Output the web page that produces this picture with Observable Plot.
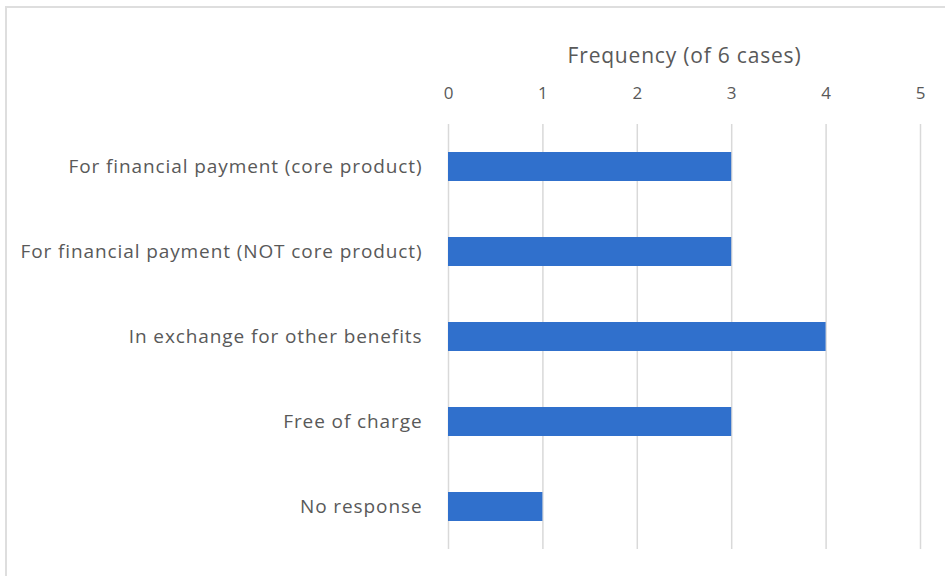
<!DOCTYPE html>
<html>
<head>
<meta charset="utf-8">
<script src="https://cdn.jsdelivr.net/npm/d3@7"></script>
<script src="https://cdn.jsdelivr.net/npm/@observablehq/plot@0.6"></script>
<style>
  html, body { margin: 0; padding: 0; background: #fff; }
  #wrap { position: relative; width: 945px; height: 576px; overflow: hidden; }
  #border { position: absolute; left: 5px; top: 6px; width: 960px; height: 600px; border: 2px solid #dedede; box-sizing: border-box; pointer-events: none; }
  svg { display: block; }
  g[aria-label="y-axis tick label"] text { letter-spacing: 0.9px; }
  g.xtitle text { letter-spacing: 0.8px; }
</style>
</head>
<body>
<div id="wrap"><div id="border"></div></div>
<script>
const categories = [
  "For financial payment (core product)",
  "For financial payment (NOT core product)",
  "In exchange for other benefits",
  "Free of charge",
  "No response"
];
const frequencies = [3, 3, 4, 3, 1];
const xTicks = [0, 1, 2, 3, 4, 5];
const xTitle = "Frequency (of 6 cases)";

const data = categories.map((c, i) => ({category: c, value: frequencies[i]}));
const textColor = "#595959";

const chart = Plot.plot({
  width: 945,
  height: 576,
  marginTop: 124,
  marginBottom: 27,
  marginLeft: 448,
  marginRight: 25,
  style: { fontFamily: "'Open Sans', sans-serif", color: textColor, background: "transparent" },
  x: { domain: [0, 5], ticks: xTicks },
  y: { domain: categories, paddingInner: 0.66, paddingOuter: 0.33 },
  marks: [
    Plot.gridX(xTicks, { stroke: "#d9d9d9", strokeOpacity: 1, strokeWidth: 1.5 }),
    Plot.barX(data, { x: "value", y: "category", fill: "#3070cc" }),
    Plot.axisX(xTicks, { anchor: "top", tickSize: 0, tickPadding: 26, fontSize: 17, label: null, fill: textColor }),
    Plot.axisY({ tickSize: 0, tickPadding: 26, fontSize: 19, label: null, fill: textColor }),
    Plot.text([xTitle], { frameAnchor: "top", dy: -76, fontSize: 21, fill: textColor, className: "xtitle" })
  ]
});
document.getElementById("wrap").prepend(chart);
</script>
</body>
</html>
